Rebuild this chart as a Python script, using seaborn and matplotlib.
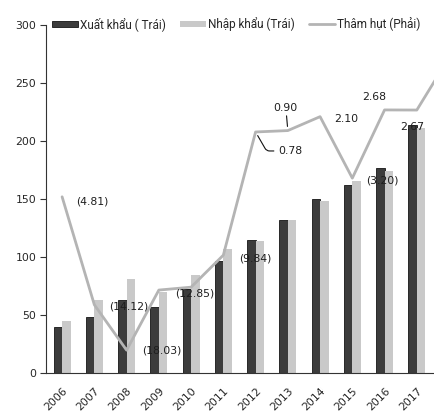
import numpy as np
import pandas as pd
import matplotlib
matplotlib.use("Agg")
import matplotlib.pyplot as plt
from matplotlib.patches import Patch
from matplotlib.lines import Line2D
import seaborn as sns

# ------------------------------------------------------------
# data (billion USD)
# ------------------------------------------------------------
years = ["2006", "2007", "2008", "2009", "2010", "2011",
         "2012", "2013", "2014", "2015", "2016", "2017"]
exports = [39.8, 48.6, 62.7, 57.1, 72.2, 96.9,
           114.5, 132.2, 150.2, 162.0, 176.6, 214.0]
imports = [44.8, 62.8, 80.7, 69.9, 84.8, 106.7,
           113.8, 132.0, 148.0, 165.6, 174.0, 211.0]

# deficit line runs one year further (2018 is cut off at the right edge)
line_years = years + ["2018"]
deficit = [-4.81, -14.12, -18.03, -12.85, -12.6, -9.84,
           0.78, 0.90, 2.10, -3.20, 2.68, 2.67, 7.2]
deficit_labels = ["(4.81)", "(14.12)", "(18.03)", "(12.85)", None, "(9.84)",
                  "0.78", "0.90", "2.10", "(3.20)", "2.68", "2.67", None]
# label offsets in pixels (dx, dy) from each point
label_offsets = [(30, -5), (34, -2), (35, 0), (36, -3), None, (32, -3),
                 (35, -19), (-2, 23), (26, -2), (30, -2), (-10, 13), (-5, -17), None]

lbl_export = "Xuất khẩu ( Trái)"
lbl_import = "Nhập khẩu (Trái)"
lbl_deficit = "Thâm hụt (Phải)"

c_export = "#3c3c3c"
c_import = "#c9c9c9"
c_line = "#b4b4b4"

bars = pd.DataFrame({
    "year": years * 2,
    "value": exports + imports,
    "series": [lbl_export] * len(years) + [lbl_import] * len(years),
})

# ------------------------------------------------------------
# plot
# ------------------------------------------------------------
sns.set_style("white")
plt.rcParams["font.family"] = ["DejaVu Sans"]

fig = plt.figure(figsize=(4.35, 4.17), dpi=100)
ax = fig.add_axes([0.1057, 0.1055, 0.894, 0.8345])

sns.barplot(data=bars, x="year", y="value", hue="series", order=years,
            palette={lbl_export: c_export, lbl_import: c_import},
            width=0.53, saturation=1, edgecolor="none", legend=False, ax=ax)
for p in ax.patches[:len(years)]:
    p.set_edgecolor("#151515")
    p.set_linewidth(0.6)

ax2 = ax.twinx()
x_pos = np.arange(len(line_years))
sns.lineplot(x=x_pos, y=deficit, color=c_line, linewidth=2.0, ax=ax2)
ax2.set_ylim(-20, 10)
ax2.set_yticks([])
ax2.set_ylabel("")
for s in ax2.spines.values():
    s.set_visible(False)

for i, (txt, off) in enumerate(zip(deficit_labels, label_offsets)):
    if txt is None:
        continue
    kw = {}
    if txt == "0.78":
        kw["arrowprops"] = dict(arrowstyle="-", color="#111111", lw=0.8,
                                shrinkA=1, shrinkB=3,
                                connectionstyle="angle,angleA=0,angleB=-60,rad=3")
    elif txt == "0.90":
        kw["arrowprops"] = dict(arrowstyle="-", color="#111111", lw=0.8,
                                shrinkA=0, shrinkB=3)
    ax2.annotate(txt, xy=(x_pos[i], deficit[i]), xytext=off,
                 textcoords="offset pixels", ha="center", va="center",
                 fontsize=7.8, color="#1e1e1e", **kw)

# axes styling
ax.set_ylim(0, 300)
ax.set_yticks(np.arange(0, 301, 50))
ax.set_xlim(-0.5, 11.56)
ax.set_xlabel("")
ax.set_ylabel("")
ax.set_xticks(np.arange(len(years)))
ax.set_xticklabels(years, rotation=45, fontsize=7.8)
ax.set_xticks(np.arange(len(years)) - 0.5, minor=True)
ax.tick_params(axis="x", which="minor", length=4, width=0.8, color="#333333",
               direction="out")
ax.tick_params(axis="y", length=4, width=0.8, color="#333333", direction="out",
               labelsize=7.8, pad=3)
for lab in ax.get_xticklabels():
    lab.set_rotation_mode("anchor")
    lab.set_ha("right")
ax.tick_params(axis="x", which="major", length=0, pad=9)
ax.spines["top"].set_visible(False)
ax.spines["right"].set_visible(False)
ax.spines["left"].set_color("#333333")
ax.spines["bottom"].set_color("#333333")
ax.spines["left"].set_linewidth(0.8)
ax.spines["bottom"].set_linewidth(0.8)
ax.grid(False)

handles = [
    Patch(facecolor=c_export, edgecolor="#151515", linewidth=0.6),
    Patch(facecolor=c_import, edgecolor="none"),
    Line2D([0], [0], color=c_line, linewidth=2.0),
]
fig.legend(handles, [lbl_export, lbl_import, lbl_deficit],
           loc="center", bbox_to_anchor=(0.543, 0.942), ncol=3, frameon=False,
           handlelength=2.2, handleheight=0.5, handletextpad=0.15,
           columnspacing=1.2, borderpad=0.2,
           prop={"family": ["Roboto", "DejaVu Sans"], "size": 8.5})

fig.savefig("out.png", dpi=100)
